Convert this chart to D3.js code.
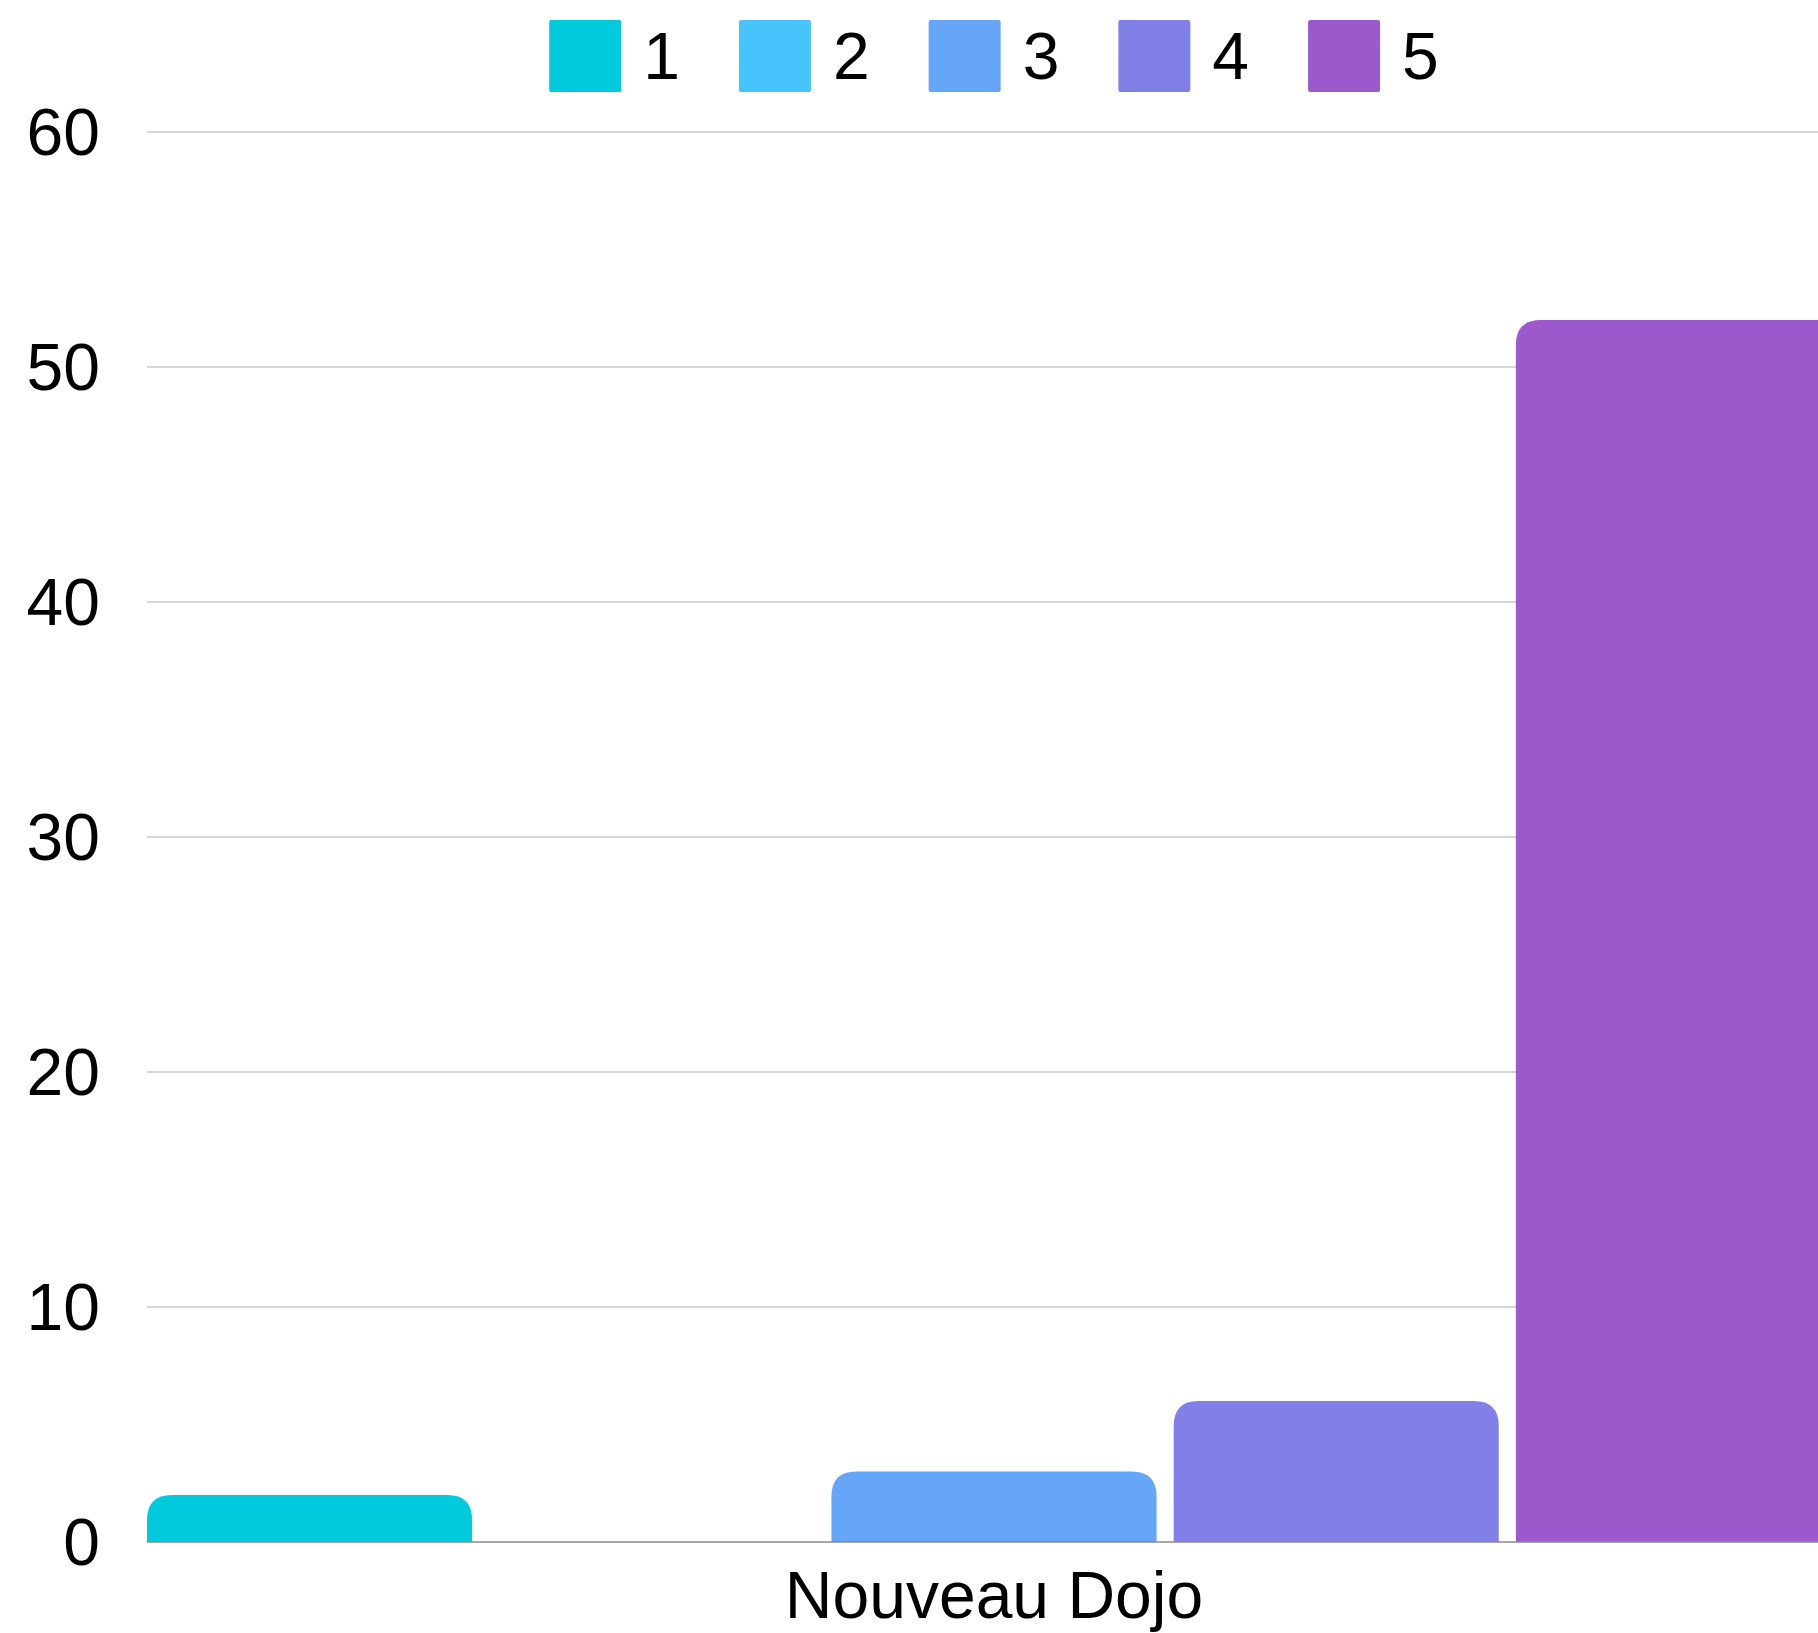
<!DOCTYPE html>
<html>
<head>
<meta charset="utf-8">
<script src="https://cdn.jsdelivr.net/npm/d3@7"></script>
<style>
  html, body { margin: 0; padding: 0; background: #fff; overflow: hidden; }
  svg { display: block; font-family: "Liberation Sans", Arial, Helvetica, sans-serif; }
</style>
</head>
<body>
<svg id="chart"></svg>
<script>
const categories = ['Nouveau Dojo'];
const seriesNames = ['1', '2', '3', '4', '5'];
const seriesValues = [2, 0, 3, 6, 52];
const yTicks = [0, 10, 20, 30, 40, 50, 60];
const colors = ['#00cadb', '#48c4fc', '#66a6f8', '#8080e6', '#9b59cb'];

const margin = { top: 132, right: 0, bottom: 91, left: 147 };
const svgWidth = 1818;
const svgHeight = 1633;
const width = 1694;  // plot runs past the right edge, like the original
const height = svgHeight - margin.top - margin.bottom;
const fontSize = 66;

const svg = d3.select('#chart')
  .attr('width', svgWidth)
  .attr('height', svgHeight);

const x0 = d3.scaleBand()
  .domain(categories)
  .range([0, width])
  .paddingOuter(0);

const x1 = d3.scaleBand()
  .domain(seriesNames)
  .range([0, x0.bandwidth()])
  .paddingInner(0.05)
  .paddingOuter(0);

const y = d3.scaleLinear()
  .domain([0, 60])
  .range([height, 0]);

const g = svg.append('g')
  .attr('transform', 'translate(' + margin.left + ',' + margin.top + ')');

// gridlines
g.append('g')
  .attr('class', 'grid')
  .selectAll('line')
  .data(yTicks.filter(d => d !== 0))
  .enter()
  .append('line')
  .attr('x1', 0)
  .attr('x2', width)
  .attr('y1', d => y(d))
  .attr('y2', d => y(d))
  .attr('stroke', '#c8c8c8')
  .attr('stroke-width', 1.3);

// y labels
g.append('g')
  .attr('class', 'axis axis-y')
  .selectAll('text')
  .data(yTicks)
  .enter()
  .append('text')
  .attr('x', -47)
  .attr('y', d => y(d))
  .attr('dy', '0.35em')
  .attr('text-anchor', 'end')
  .attr('font-size', fontSize)
  .attr('fill', '#000')
  .text(d => d);

// bars with rounded top corners
function topRounded(x, yTop, w, h, r) {
  r = Math.min(r, h, w / 2);
  return 'M' + x + ',' + (yTop + h) +
    'V' + (yTop + r) +
    'Q' + x + ',' + yTop + ' ' + (x + r) + ',' + yTop +
    'H' + (x + w - r) +
    'Q' + (x + w) + ',' + yTop + ' ' + (x + w) + ',' + (yTop + r) +
    'V' + (yTop + h) + 'Z';
}

const barData = seriesNames.map((s, i) => ({ series: s, value: seriesValues[i], color: colors[i] }));

g.append('g')
  .selectAll('g')
  .data(categories)
  .enter()
  .append('g')
  .attr('transform', d => 'translate(' + x0(d) + ',0)')
  .selectAll('path')
  .data(barData.filter(d => d.value > 0))
  .enter()
  .append('path')
  .attr('fill', d => d.color)
  .attr('d', d => topRounded(x1(d.series), y(d.value), x1.bandwidth(), height - y(d.value), 25));

// baseline
g.append('line')
  .attr('x1', 0)
  .attr('x2', width)
  .attr('y1', y(0))
  .attr('y2', y(0))
  .attr('stroke', '#8a8a8a')
  .attr('stroke-width', 1.5);

// x label
g.append('g')
  .attr('class', 'axis axis-x')
  .selectAll('text')
  .data(categories)
  .enter()
  .append('text')
  .attr('x', d => x0(d) + x0.bandwidth() / 2)
  .attr('y', height + 76)
  .attr('text-anchor', 'middle')
  .attr('font-size', fontSize)
  .attr('fill', '#000')
  .text(d => d);

// legend, centred over the plot
const sw = 72, gapText = 22, gapItem = 59;
const legend = svg.append('g').attr('class', 'legend');
const items = legend.selectAll('g')
  .data(seriesNames)
  .enter()
  .append('g');

items.append('rect')
  .attr('width', sw)
  .attr('height', sw)
  .attr('rx', 2)
  .attr('fill', (d, i) => colors[i]);

items.append('text')
  .attr('x', sw + gapText)
  .attr('y', sw / 2)
  .attr('dy', '0.35em')
  .attr('font-size', fontSize)
  .attr('fill', '#000')
  .text(d => d);

let offset = 0;
const offsets = [];
items.each(function () {
  offsets.push(offset);
  const tw = d3.select(this).select('text').node().getComputedTextLength();
  offset += sw + gapText + tw + gapItem;
});
const legendWidth = offset - gapItem;
const legendStart = margin.left + width / 2 - legendWidth / 2;
items.attr('transform', (d, i) => 'translate(' + (legendStart + offsets[i]) + ',20)');
</script>
</body>
</html>
